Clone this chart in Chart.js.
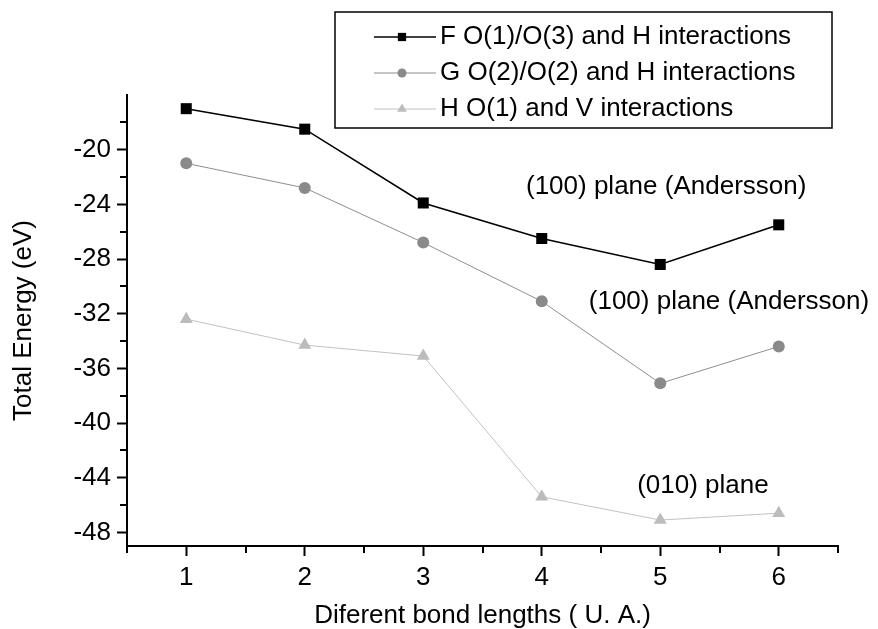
<!DOCTYPE html>
<html>
<head>
<meta charset="utf-8">
<script src="https://cdn.jsdelivr.net/npm/chart.js@4.4.1/dist/chart.umd.min.js"></script>
<style>
  html, body { margin: 0; padding: 0; background: #fff; }
  #wrap { width: 878px; height: 629px; }
</style>
</head>
<body>
<div id="wrap"><canvas id="energyChart"></canvas></div>
<script>
// values
const bondLengths = [1, 2, 3, 4, 5, 6];
const seriesF = [-17.0, -18.5, -23.9, -26.5, -28.4, -25.5];
const seriesG = [-21.0, -22.8, -26.8, -31.1, -37.1, -34.4];
const seriesH = [-32.4, -34.3, -35.1, -45.4, -47.1, -46.6];
const seriesNames = [
  "F O(1)/O(3) and H interactions",
  "G O(2)/O(2) and H interactions",
  "H O(1) and V interactions"
];

const xTicks = [1, 2, 3, 4, 5, 6];
const xMinorTicks = [0.5, 1.5, 2.5, 3.5, 4.5, 5.5, 6.5];
const yTicks = [-48, -44, -40, -36, -32, -28, -24, -20];
const yMinorTicks = [-46, -42, -38, -34, -30, -26, -22, -18];

const noteTexts = ["(100) plane (Andersson)", "(100) plane (Andersson)", "(010) plane"];
const noteX = [5.05, 5.58, 5.36];
const noteY = [-22.75, -31.15, -44.6];

const FONT = "'Liberation Sans', Arial, sans-serif";
const FSIZE = 26;
Chart.defaults.font.family = FONT;
Chart.defaults.font.size = FSIZE;
Chart.defaults.color = "#000";

function points(values) {
  return bondLengths.map((b, i) => ({ x: b, y: values[i] }));
}

// short outside ticks between the labelled ones
const minorTicks = {
  id: "minorTicks",
  afterDraw(chart) {
    const { ctx, chartArea, scales: { x, y } } = chart;
    ctx.save();
    ctx.strokeStyle = "#000";
    ctx.lineWidth = 2;
    ctx.beginPath();
    xMinorTicks.forEach(v => {
      const px = Math.round(x.getPixelForValue(v));
      ctx.moveTo(px, chartArea.bottom);
      ctx.lineTo(px, chartArea.bottom + 7);
    });
    yMinorTicks.forEach(v => {
      const py = Math.round(y.getPixelForValue(v));
      ctx.moveTo(chartArea.left, py);
      ctx.lineTo(chartArea.left - 7, py);
    });
    ctx.stroke();
    ctx.restore();
  }
};

// boxed legend with line + marker samples
const boxLegend = {
  id: "boxLegend",
  afterDraw(chart) {
    const { ctx, chartArea } = chart;
    const right = chartArea.right - 6;
    const left = right - 497;
    const top = 12, bottom = 128;
    ctx.save();
    ctx.fillStyle = "#fff";
    ctx.fillRect(left, top, right - left, bottom - top);
    ctx.strokeStyle = "#000";
    ctx.lineWidth = 1.5;
    ctx.strokeRect(left, top, right - left, bottom - top);
    chart.data.datasets.forEach((ds, i) => {
      const cy = 37 + i * 36;
      ctx.strokeStyle = ds.borderColor;
      ctx.lineWidth = ds.borderWidth;
      ctx.beginPath();
      ctx.moveTo(left + 39, cy);
      ctx.lineTo(left + 101, cy);
      ctx.stroke();
      ctx.fillStyle = ds.pointBackgroundColor;
      Chart.helpers.drawPoint(ctx, {
        pointStyle: ds.pointStyle, radius: ds.pointRadius * 0.75, borderWidth: 0, rotation: 0
      }, left + 67, cy);
      ctx.fillStyle = "#000";
      ctx.font = FSIZE + "px " + FONT;
      ctx.textAlign = "left";
      ctx.textBaseline = "middle";
      ctx.fillText(ds.label, left + 105, cy);
    });
    ctx.restore();
  }
};

// plane notes placed in data units
const planeNotes = {
  id: "planeNotes",
  afterDatasetsDraw(chart) {
    const { ctx, scales: { x, y } } = chart;
    ctx.save();
    ctx.fillStyle = "#000";
    ctx.font = FSIZE + "px " + FONT;
    ctx.textAlign = "center";
    ctx.textBaseline = "middle";
    noteTexts.forEach((t, i) => {
      ctx.fillText(t, x.getPixelForValue(noteX[i]), y.getPixelForValue(noteY[i]));
    });
    ctx.restore();
  }
};

const ctx = document.getElementById("energyChart").getContext("2d");
const energyChart = new Chart(ctx, {
  type: "line",
  data: {
    datasets: [{
      label: seriesNames[0],
      data: points(seriesF),
      borderColor: "#000",
      borderWidth: 1.6,
      pointStyle: "rect",
      pointRadius: 7.8,
      pointBackgroundColor: "#000",
      pointBorderWidth: 0
    }, {
      label: seriesNames[1],
      data: points(seriesG),
      borderColor: "#8e8e8e",
      borderWidth: 1,
      pointStyle: "circle",
      pointRadius: 6,
      pointBackgroundColor: "#8a8a8a",
      pointBorderWidth: 0
    }, {
      label: seriesNames[2],
      data: points(seriesH),
      borderColor: "#c2c2c2",
      borderWidth: 1,
      pointStyle: "triangle",
      pointRadius: 7.5,
      pointBackgroundColor: "#bcbcbc",
      pointBorderWidth: 0
    }]
  },
  options: {
    animation: false,
    responsive: true,
    maintainAspectRatio: false,
    layout: { padding: { top: 95, right: 40, left: 0, bottom: 0 } },
    plugins: {
      legend: { display: false },
      tooltip: { enabled: false }
    },
    scales: {
      x: {
        type: "linear",
        min: 0.5,
        max: 6.5,
        afterBuildTicks: s => { s.ticks = xTicks.map(v => ({ value: v })); },
        afterFit: s => { s.height = 83; },
        grid: { drawOnChartArea: false, tickLength: 10, tickWidth: 2, tickColor: "#000" },
        border: { color: "#000", width: 2 },
        ticks: { color: "#000", padding: 6, maxRotation: 0, autoSkip: false },
        title: {
          display: true,
          text: "Diferent bond lengths ( U. A.)",
          color: "#000",
          font: { size: FSIZE, lineHeight: 1 },
          padding: { top: 0, bottom: 0 }
        }
      },
      y: {
        min: -49,
        max: -16,
        afterBuildTicks: s => { s.ticks = yTicks.map(v => ({ value: v })); },
        afterFit: s => { s.width = 127; },
        grid: { drawOnChartArea: false, tickLength: 10, tickWidth: 2, tickColor: "#000" },
        border: { color: "#000", width: 2 },
        ticks: { color: "#000", padding: 6, autoSkip: false },
        title: {
          display: true,
          text: "Total Energy (eV)",
          color: "#000",
          font: { size: FSIZE, lineHeight: 1 },
          padding: { top: 11, bottom: 0 }
        }
      }
    }
  },
  plugins: [minorTicks, planeNotes, boxLegend]
});
</script>
</body>
</html>
